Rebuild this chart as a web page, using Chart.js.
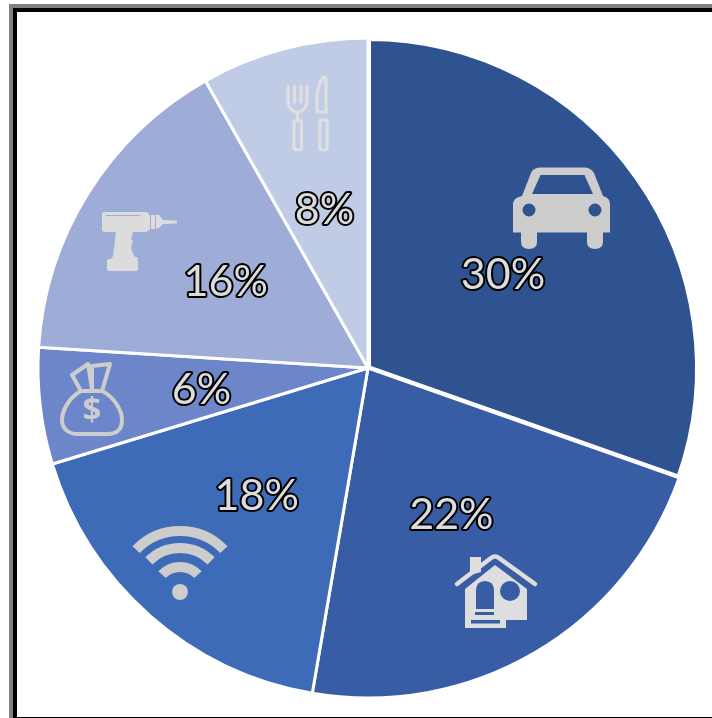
<!DOCTYPE html>
<html>
<head>
<meta charset="utf-8">
<script src="https://cdn.jsdelivr.net/npm/chart.js@4"></script>
<style>
html,body{margin:0;padding:0;background:#fff;width:712px;height:718px;overflow:hidden}
#wrap{position:absolute;left:0;top:0;width:712px;height:718px;overflow:hidden}
.b{position:absolute}
canvas{position:absolute;left:0;top:0;filter:blur(0.45px)}
</style>
</head>
<body>
<div id="wrap">
<div class="b" style="left:9px;top:4px;width:703px;height:4px;background:#808080"></div>
<div class="b" style="left:9px;top:4px;width:4px;height:714px;background:#808080"></div>
<div class="b" style="left:13px;top:8px;width:699px;height:4px;background:#000"></div>
<div class="b" style="left:13px;top:8px;width:4px;height:710px;background:#000"></div>
<div class="b" style="left:17px;top:717px;width:695px;height:1px;background:#000"></div>
<canvas id="c" width="712" height="718"></canvas>
</div>
<script>
const categories = ["Transport", "Housing", "Internet", "Savings", "Tools", "Food"];
const values = [30.4, 22.3, 17.6, 5.7, 15.8, 8.2];
const percentLabels = ["30%", "22%", "18%", "6%", "16%", "8%"];
const colors = ["#2e5390", "#385da4", "#3e6bb8", "#6c86c9", "#9eadd8", "#c0cbe6"];
const borders = [6, 3, 3, 3, 3, 3];

function fillIcon(ctx, d, color, rule) {
  ctx.fillStyle = color;
  ctx.fill(new Path2D(d), rule || "nonzero");
}
function strokeIcon(ctx, d, color, w, cap) {
  ctx.strokeStyle = color;
  ctx.lineWidth = w;
  ctx.lineCap = cap || "round";
  ctx.lineJoin = "round";
  ctx.stroke(new Path2D(d));
}
function circle(cx, cy, r) {
  return `M${cx + r},${cy}A${r},${r} 0 1 0 ${cx - r},${cy}A${r},${r} 0 1 0 ${cx + r},${cy}Z`;
}
function arcPath(cx, cy, r, half) {
  const a = half * Math.PI / 180;
  const dx = r * Math.sin(a), dy = r * Math.cos(a);
  return `M${cx - dx},${cy - dy}A${r},${r} 0 0 1 ${cx + dx},${cy - dy}`;
}

const iconsPlugin = {
  id: "icons",
  afterDatasetsDraw(chart) {
    const ctx = chart.ctx;
    ctx.save();
    // car
    fillIcon(ctx,
      "M513,204Q513,198 522,196L531,173Q533,167.5 541,167.5L584,167.5Q591,167.5 594,173L603,196Q610,198 610,204L610,232.5L603,232.5L603,242Q603,249 595,249Q587,249 587,242L587,232.5L537,232.5L537,242Q537,249 529,249Q521,249 521,242L521,232.5L513,232.5Z" +
      "M532,194L593,194L584.5,175L540.5,175Z" + circle(529, 210, 6.5) + circle(595, 210, 6.5),
      "#cdcdcd", "evenodd");
    // house
    fillIcon(ctx,
      "M465,589L495,565L527,589L527,620L506,620L506,628L465,628Z" +
      "M476,609L476,591Q476,581 485,581Q494,581 494,591L494,609Z" + circle(510, 591, 10) +
      "M475,612L494,612L494,615L475,615Z" + "M471,620L500,620L500,623.5L471,623.5Z" ,
      "#dedede", "evenodd");
    fillIcon(ctx, "M470,557L481,557L481,572L470,575Z", "#dedede");
    strokeIcon(ctx, "M457,584L491,558Q495,555 499,558L535,584", "#dedede", 4.5);
    // wifi
    [[61, 46], [44, 45], [25, 46]].forEach(([r, h]) => strokeIcon(ctx, arcPath(180, 592, r, h), "#cdcdcd", 10, "butt"));
    fillIcon(ctx, circle(180, 592, 8), "#cdcdcd");
    // money bag
    strokeIcon(ctx,
      "M81,391C68,398 62,412 62,420C62,430 70,434 78,434L108,434C116,434 122,430 122,420C122,410 114,397 102,391Z",
      "#cdcdcd", 4);
    strokeIcon(ctx, "M81,391L72,375L88,364L92,389M92,389L92,366L110,364L102,391", "#cdcdcd", 4);
    ctx.fillStyle = "#cdcdcd";
    ctx.font = "bold 33px 'Open Sans'";
    ctx.textAlign = "center";
    ctx.textBaseline = "middle";
    ctx.fillText("$", 92, 412);
    // drill
    fillIcon(ctx,
      "M102,214Q102,212 105,212L146,212Q149,213 150,216L150,229Q149,231 146,232L133,232L131,240L133,240L131,248L134,256L138,258L138,259L111,259L113,256L116,232L105,232Q102,232 102,229Z" +
      "M107,260Q107,259 109,259L136,259Q138,259 138,261L138,269Q138,271 136,271L109,271Q107,271 107,269Z",
      "#dcdcdc");
    fillIcon(ctx, "M151,215L155,215L155,229L151,229Z", "#dcdcdc");
    fillIcon(ctx, "M156,214L159,215L163,220L177,220.5L177,223.5L163,224L159,228L156,229Z", "#dcdcdc");
    strokeIcon(ctx, "M106,215.5L140,215.5", "#9eadd8", 1);
    // fork
    strokeIcon(ctx,
      "M288,86L288,100Q288,110 297,113Q307,110 307,100L307,86M294.5,86L294.5,102M301,86L301,102",
      "#dfdfdf", 3.2);
    strokeIcon(ctx, "M297.5,113L297.5,119", "#dfdfdf", 3.2);
    strokeIcon(ctx, "M294,121L301.5,121L301.5,148Q301.5,150 297.5,150Q294,150 294,148Z", "#dfdfdf", 3.2);
    // knife
    strokeIcon(ctx, "M326,78L326,112L317,112L317,95Q319,82 323,78Q325,76 326,78Z", "#dfdfdf", 3.2);
    strokeIcon(ctx, "M320,120L327,120L327,148Q327,150 323.5,150Q320,150 320,148Z", "#dfdfdf", 3.2);
    ctx.restore();
  }
};

const labelPlugin = {
  id: "pctLabels",
  afterDatasetsDraw(chart) {
    const ctx = chart.ctx;
    const arcs = chart.getDatasetMeta(0).data;
    ctx.save();
    ctx.font = "43px Lato";
    ctx.textAlign = "center";
    ctx.textBaseline = "middle";
    ctx.lineJoin = "round";
    arcs.forEach((arc, i) => {
      const mid = (arc.startAngle + arc.endAngle) / 2;
      const r = arc.outerRadius * 0.505;
      const x = arc.x + Math.cos(mid) * r - 1;
      const y = arc.y + Math.sin(mid) * r + 3;
      ctx.strokeStyle = "#000";
      ctx.lineWidth = 4;
      ctx.strokeText(percentLabels[i], x, y);
      ctx.fillStyle = "#dcdcdc";
      ctx.fillText(percentLabels[i], x, y);
    });
    ctx.restore();
  }
};

new Chart(document.getElementById("c"), {
  type: "pie",
  data: {
    labels: categories,
    datasets: [{
      data: values,
      backgroundColor: colors,
      borderColor: "#ffffff",
      borderWidth: borders,
      borderAlign: "center"
    }]
  },
  options: {
    responsive: false,
    animation: false,
    layout: { padding: { left: 35, right: 11, top: 35, bottom: 17 } },
    plugins: { legend: { display: false }, tooltip: { enabled: false } }
  },
  plugins: [iconsPlugin, labelPlugin]
});
</script>
</body>
</html>
